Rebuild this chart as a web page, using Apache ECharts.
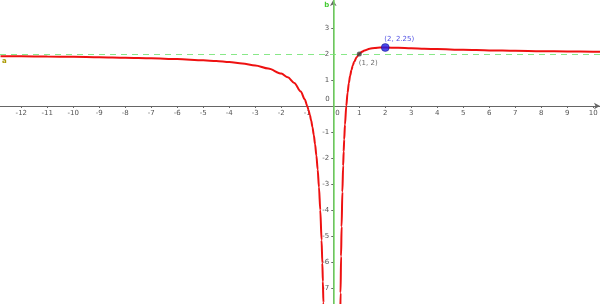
<!DOCTYPE html>
<html>
<head>
<meta charset="utf-8">
<script src="https://cdn.jsdelivr.net/npm/echarts@6/dist/echarts.min.js"></script>
<style>html,body{margin:0;padding:0;background:#fff}#c{width:600px;height:304px}</style>
</head>
<body>
<div id="c"></div>
<script>
// x range and tick labels
const xTicks = [-12,-11,-10,-9,-8,-7,-6,-5,-4,-3,-2,-1,1,2,3,4,5,6,7,8,9,10];
const yTicks = [-7,-6,-5,-4,-3,-2,-1,1,2,3];
// left branch of the curve  [x, y]
const leftBranch = [
  [-12.8,1.916],[-12,1.910],[-11,1.901],[-10,1.890],[-9,1.877],[-8,1.859],[-7,1.837],
  [-6,1.806],[-5,1.760],[-4.5,1.728],[-4,1.688],[-3.5,1.633],[-3,1.556],[-2.5,1.440],
  [-2,1.250],[-1.75,1.102],[-1.5,0.889],[-1.25,0.560],[-1.1,0.264],[-1,0],[-0.95,-0.161],
  [-0.9,-0.346],[-0.85,-0.561],[-0.8,-0.813],[-0.75,-1.111],[-0.7,-1.469],[-0.65,-1.905],
  [-0.6,-2.444],[-0.55,-3.124],[-0.5,-4.000],[-0.45,-5.160],[-0.42,-6.050],[-0.4,-6.750],
  [-0.38,-7.557],[-0.37,-8.007]
];
// right branch of the curve [x, y]
const rightBranch = [
  [0.27,-8.014],[0.28,-7.184],[0.3,-5.778],[0.32,-4.641],[0.35,-3.306],[0.38,-2.294],
  [0.4,-1.750],[0.42,-1.288],[0.45,-0.716],[0.5,0],[0.55,0.512],[0.6,0.889],[0.65,1.172],
  [0.7,1.388],[0.75,1.556],[0.8,1.688],[0.9,1.877],[1,2],[1.1,2.083],[1.2,2.139],
  [1.4,2.204],[1.6,2.234],[1.8,2.247],[2,2.25],[2.5,2.240],[3,2.222],[3.5,2.204],
  [4,2.188],[5,2.160],[6,2.139],[7,2.122],[8,2.109],[9,2.099],[10,2.090],[10.3,2.088]
];
// highlighted points
const pointA = [1, 2];
const pointB = [2, 2.25];
const asymptoteY = 2;
const asymptoteX = 0;

const X_MIN = -12.82, X_MAX = 10.26, Y_MIN = -7.615, Y_MAX = 4.077;
const W = 600, H = 304;
const xZeroPx = (0 - X_MIN) / (X_MAX - X_MIN) * W;
const yZeroPx = (Y_MAX - 0) / (Y_MAX - Y_MIN) * H;

const chart = echarts.init(document.getElementById('c'), null, {renderer:'canvas'});
const labelStyle = {color:'#555', fontSize:7, fontFamily:'DejaVu Sans, sans-serif'};
chart.setOption({
  animation:false,
  backgroundColor:'#fff',
  grid:{left:0,right:0,top:0,bottom:0,containLabel:false,outerBoundsMode:'none'},
  xAxis:{
    type:'value', min:X_MIN, max:X_MAX, position:'bottom', offset:-(H - yZeroPx),
    splitLine:{show:false},
    axisLine:{onZero:false, lineStyle:{color:'#666',width:1}, symbol:['none','arrow'], symbolSize:[5,6]},
    axisTick:{show:true, length:2, customValues:xTicks, lineStyle:{color:'#666'}},
    axisLabel:{show:true, margin:4, customValues:xTicks, ...labelStyle, formatter:v=>String(v)}
  },
  yAxis:{
    type:'value', min:Y_MIN, max:Y_MAX, position:'left', offset:-xZeroPx,
    splitLine:{show:false},
    axisLine:{onZero:false, lineStyle:{color:'#666',width:1}, symbol:['none','arrow'], symbolSize:[5,6]},
    axisTick:{show:true, length:2, customValues:yTicks, lineStyle:{color:'#666'}},
    axisLabel:{show:true, margin:4, customValues:yTicks, ...labelStyle, formatter:v=>String(v)}
  },
  series:[
    {type:'line', data:[], markLine:{silent:true, symbol:['none','none'], label:{show:false},
      data:[{yAxis:asymptoteY, lineStyle:{color:'#88e888', type:[6,5], width:1.2}},
            {xAxis:asymptoteX, lineStyle:{color:'#77dd66', type:'solid', width:1.5}}]}},
    {type:'line', data:leftBranch, showSymbol:false, smooth:0.3, smoothMonotone:'x',
      lineStyle:{color:'#ee1111', width:2}, z:3},
    {type:'line', data:rightBranch, showSymbol:false, smooth:0.3, smoothMonotone:'x',
      lineStyle:{color:'#ee1111', width:2}, z:3},
    {type:'scatter', data:[pointA], symbolSize:5, itemStyle:{color:'#444'}, z:5,
      label:{show:true, position:'bottom', offset:[9,-2], formatter:'(1, 2)', color:'#444', fontSize:7, fontFamily:'DejaVu Sans, sans-serif'}},
    {type:'scatter', data:[pointB], symbolSize:8, itemStyle:{color:'#1a1ae6', borderColor:'#000066', borderWidth:0.5}, z:5,
      label:{show:true, position:'top', offset:[14,4], formatter:'(2, 2.25)', color:'#2222dd', fontSize:7, fontFamily:'DejaVu Sans, sans-serif'}}
  ]
});
// origin labels and object names
const o = chart.convertToPixel({gridIndex:0},[0,0]);
const aPos = chart.convertToPixel({gridIndex:0},[X_MIN, asymptoteY]);
chart.setOption({graphic:[
  {type:'text', left:o[0]-8, top:o[1]-10, style:{text:'0', fill:'#555', font:'7px DejaVu Sans'}},
  {type:'text', left:o[0]+2, top:o[1]+4, style:{text:'0', fill:'#555', font:'7px DejaVu Sans'}},
  {type:'text', left:o[0]-9, top:2, style:{text:'b', fill:'#44cc33', font:'bold 7px DejaVu Sans'}},
  {type:'text', left:aPos[0]+2, top:aPos[1]+4, style:{text:'a', fill:'#aa9900', font:'bold 7px DejaVu Sans'}}
]});
</script>
</body>
</html>
